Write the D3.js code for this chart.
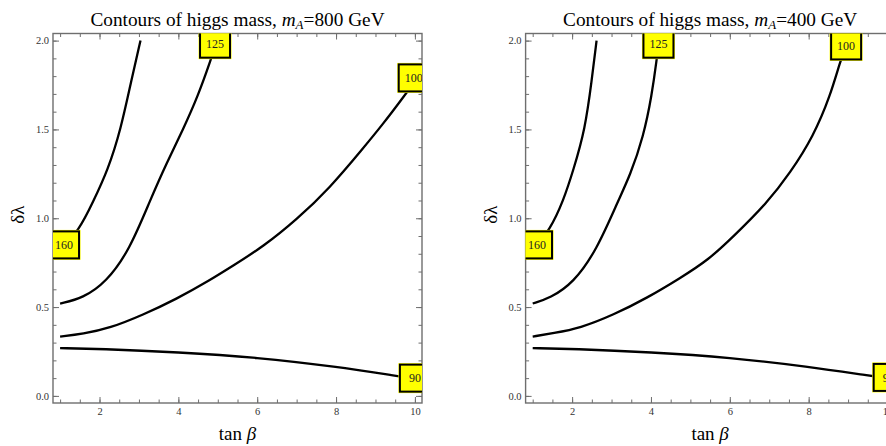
<!DOCTYPE html>
<html>
<head>
<meta charset="utf-8">
<script src="https://cdn.jsdelivr.net/npm/d3@7"></script>
<style>
  body { margin: 0; background: #fff; overflow: hidden; }
  svg { display: block; }
</style>
</head>
<body>
<svg id="chart" width="886" height="446"></svg>
<script>
//tick labels
const xTicks = [2, 4, 6, 8, 10];
const yTicks = [0, 0.5, 1, 1.5, 2];

//panel masses (GeV)
const massA = ["800", "400"];

//contour level names, same order as the curve arrays
const levels = ["160", "125", "100", "90"];

//m_A = 800 GeV contours, [tan beta, delta lambda]
const c160_800 = [[1.0, 0.82], [1.49, 0.935], [1.83, 1.09], [2.21, 1.27], [2.54, 1.50], [2.81, 1.78], [3.04, 2.0]];
const c125_800 = [[1.0, 0.52], [1.58, 0.55], [2.17, 0.64], [2.76, 0.82], [3.30, 1.11], [3.70, 1.31], [4.12, 1.50], [4.50, 1.69], [4.82, 1.89], [4.95, 1.98]];
const c100_800 = [[1.0, 0.334], [1.58, 0.349], [2.26, 0.381], [3.10, 0.456], [3.95, 0.545], [4.79, 0.65], [5.40, 0.735], [6.15, 0.84], [7.0, 0.992], [7.84, 1.17], [8.69, 1.395], [9.19, 1.53], [9.70, 1.68], [10.0, 1.77]];
const c90_800 = [[1.0, 0.269], [2.0, 0.265], [4.0, 0.246], [6.0, 0.217], [8.0, 0.165], [9.6, 0.11], [10.0, 0.097]];
//label spots along each contour
const labels800 = [[1.1, 0.85], [4.93, 1.98], [9.97, 1.79], [10.0, 0.10]];

//m_A = 400 GeV contours
const c160_400 = [[1.0, 0.82], [1.44, 0.935], [1.78, 1.10], [2.03, 1.27], [2.33, 1.50], [2.50, 1.78], [2.62, 2.0]];
const c125_400 = [[1.0, 0.52], [1.44, 0.55], [2.03, 0.635], [2.62, 0.82], [3.15, 1.09], [3.47, 1.24], [3.81, 1.46], [4.02, 1.69], [4.15, 1.90], [4.19, 1.98]];
const c100_400 = [[1.0, 0.334], [1.52, 0.353], [2.20, 0.381], [3.05, 0.456], [3.89, 0.55], [4.74, 0.663], [5.46, 0.766], [6.09, 0.897], [6.94, 1.085], [7.53, 1.255], [8.12, 1.461], [8.55, 1.69], [8.80, 1.884], [8.95, 1.97]];
const c90_400 = [[1.0, 0.269], [2.02, 0.265], [4.0, 0.246], [6.0, 0.216], [7.99, 0.165], [9.56, 0.113], [10.0, 0.10]];
const labels400 = [[1.11, 0.85], [4.19, 1.98], [8.95, 1.97], [10.03, 0.104]];

const serif = "'Liberation Serif', 'Times New Roman', serif";
const frameColor = "#6e6e6e";

const svg = d3.select("#chart");

//plot box, shared by both panels
const box = { top: 33.5, bottom: 403, width: 369 };
const xDomain = [0.82, 10.18];
const yDomain = [-0.04, 2.04];

drawPanel(53, massA[0], [c160_800, c125_800, c100_800, c90_800], labels800, "p1");
drawPanel(525.6, massA[1], [c160_400, c125_400, c100_400, c90_400], labels400, "p2");

function drawPanel(left, mass, curves, labelPos, id) {
  const x = d3.scaleLinear().domain(xDomain).range([left, left + box.width]);
  const y = d3.scaleLinear().domain(yDomain).range([box.bottom, box.top]);
  const g = svg.append("g");

  //clip region = plot area
  svg.append("clipPath").attr("id", "clip-" + id)
    .append("rect")
    .attr("x", x(xDomain[0])).attr("y", y(yDomain[1]))
    .attr("width", x(xDomain[1]) - x(xDomain[0]))
    .attr("height", y(yDomain[0]) - y(yDomain[1]));

  //ticks: minor first, then major with labels
  const xMinor = d3.range(1, 10.01, 0.5);
  const yMinor = d3.range(0, 2.001, 0.1);
  const axes = [
    [d3.axisBottom(x).tickValues(xMinor).tickSize(-3.5).tickFormat(""), `translate(0,${box.bottom})`],
    [d3.axisTop(x).tickValues(xMinor).tickSize(-3.5).tickFormat(""), `translate(0,${box.top})`],
    [d3.axisLeft(y).tickValues(yMinor).tickSize(-3.5).tickFormat(""), `translate(${left},0)`],
    [d3.axisRight(y).tickValues(yMinor).tickSize(-3.5).tickFormat(""), `translate(${left + box.width},0)`],
    [d3.axisBottom(x).tickValues(xTicks).tickSize(-6).tickPadding(5).tickFormat(d3.format("d")), `translate(0,${box.bottom})`],
    [d3.axisTop(x).tickValues(xTicks).tickSize(-6).tickFormat(""), `translate(0,${box.top})`],
    [d3.axisLeft(y).tickValues(yTicks).tickSize(-6).tickPadding(4).tickFormat(d3.format(".1f")), `translate(${left},0)`],
    [d3.axisRight(y).tickValues(yTicks).tickSize(-6).tickFormat(""), `translate(${left + box.width},0)`]
  ];
  axes.forEach(([ax, tr]) => {
    const a = g.append("g").attr("transform", tr).call(ax);
    a.select(".domain").remove();
    a.selectAll("line").attr("stroke", frameColor).attr("stroke-width", 1);
    a.selectAll("text").attr("fill", "#333").style("font-family", serif).style("font-size", "10.5px");
  });

  //frame
  g.append("rect")
    .attr("x", x(xDomain[0])).attr("y", y(yDomain[1]))
    .attr("width", x(xDomain[1]) - x(xDomain[0]))
    .attr("height", y(yDomain[0]) - y(yDomain[1]))
    .attr("fill", "none").attr("stroke", frameColor).attr("stroke-width", 1.4);

  //contour curves, smoothed through the read-off points
  const line = d3.line()
    .x(d => x(d[0]))
    .y(d => y(d[1]))
    .curve(d3.curveBasis);
  const inner = g.append("g").attr("clip-path", `url(#clip-${id})`);
  inner.selectAll("path.contour").data(curves).enter()
    .append("path")
    .attr("class", "contour")
    .attr("d", line)
    .attr("fill", "none")
    .attr("stroke", "#000")
    .attr("stroke-width", 2.3);

  //contour labels
  const lab = inner.selectAll("g.lab").data(labelPos).enter()
    .append("g")
    .attr("class", "lab")
    .attr("transform", d => `translate(${x(d[0])},${y(d[1])})`);
  lab.append("rect")
    .attr("x", -16.5).attr("y", -15).attr("width", 33).attr("height", 30)
    .attr("fill", "#ffff00");
  lab.append("rect")
    .attr("x", -15).attr("y", -13.5).attr("width", 30).attr("height", 27)
    .attr("fill", "#ffff00").attr("stroke", "#000").attr("stroke-width", 2);
  lab.append("text")
    .attr("text-anchor", "middle")
    .attr("dy", "0.35em")
    .attr("fill", "#222")
    .style("font-family", serif)
    .style("font-size", "12px")
    .text((d, i) => levels[i]);

  const cx = left + box.width / 2;

  //title
  const t = svg.append("text")
    .attr("x", cx).attr("y", 26)
    .attr("text-anchor", "middle")
    .style("font-family", serif)
    .style("font-size", "19.3px")
    .attr("fill", "#000");
  t.append("tspan").text("Contours of higgs mass, ");
  t.append("tspan").attr("font-style", "italic").text("m");
  t.append("tspan").attr("font-style", "italic").attr("font-size", "13px").attr("dy", 3).text("A");
  t.append("tspan").attr("dy", -3).text(`=${mass} GeV`);

  //x label
  const xl = svg.append("text")
    .attr("x", cx).attr("y", 440)
    .attr("text-anchor", "middle")
    .style("font-family", serif)
    .style("font-size", "19px");
  xl.append("tspan").text("tan ");
  xl.append("tspan").attr("font-style", "italic").text("β");

  //y label
  svg.append("text")
    .attr("transform", `translate(${left - 29},${y(1.02)}) rotate(-90)`)
    .attr("text-anchor", "middle")
    .style("font-family", serif)
    .style("font-size", "19px")
    .text("δλ");
}
</script>
</body>
</html>
